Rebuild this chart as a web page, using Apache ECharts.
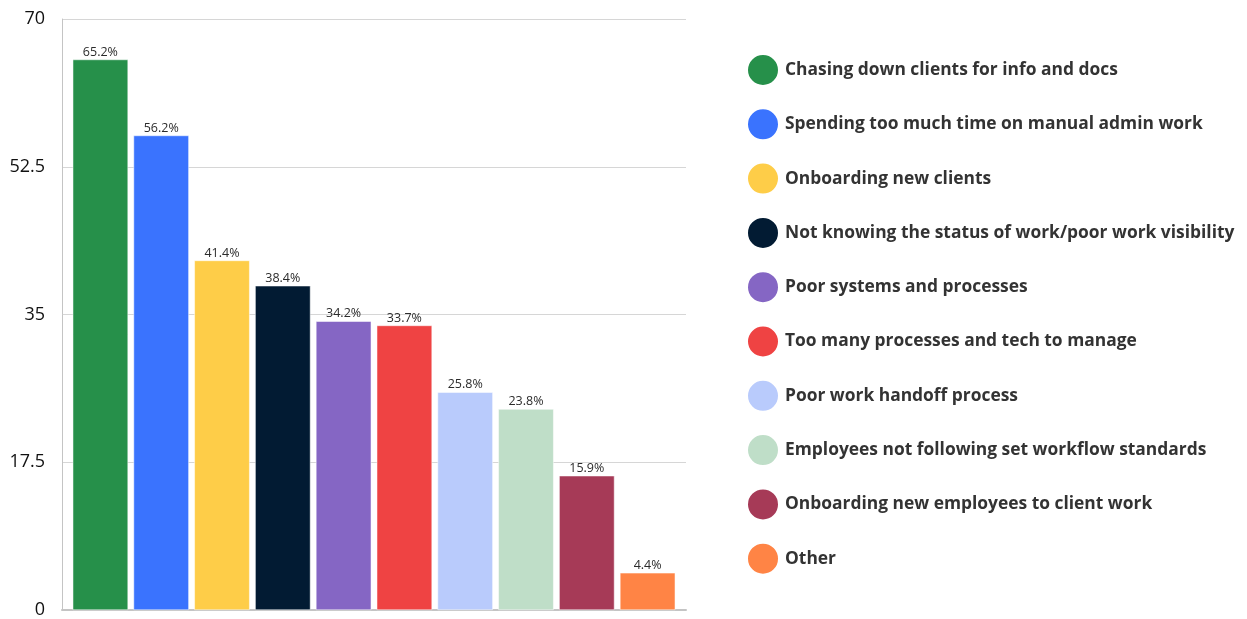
<!DOCTYPE html>
<html>
<head>
<meta charset="utf-8">
<script src="https://cdn.jsdelivr.net/npm/echarts@6/dist/echarts.min.js"></script>
<style>
  html, body { margin: 0; padding: 0; background: #fff; }
  #chart { width: 1247px; height: 619px; }
</style>
</head>
<body>
<div id="chart"></div>
<script>
// Survey responses: biggest workflow challenges (% of respondents)
const categories = [
  'Chasing down clients for info and docs',
  'Spending too much time on manual admin work',
  'Onboarding new clients',
  'Not knowing the status of work/poor work visibility',
  'Poor systems and processes',
  'Too many processes and tech to manage',
  'Poor work handoff process',
  'Employees not following set workflow standards',
  'Onboarding new employees to client work',
  'Other'
];
const values = [65.2, 56.2, 41.4, 38.4, 34.2, 33.7, 25.8, 23.8, 15.9, 4.4];
const colors = [
  '#26904A', '#3A73FE', '#FECD48', '#021B33', '#8566C4',
  '#EF4343', '#B9CBFC', '#BFDEC8', '#A63A57', '#FF8445'
];
const yTicks = { min: 0, max: 70, interval: 17.5 };

const FONT = '"Open Sans", "DejaVu Sans", sans-serif';

// One series per category so each bar gets its own legend entry;
// they share a stack so every bar sits centred in its own slot.
const series = categories.map((name, i) => ({
  name: name,
  type: 'bar',
  stack: 'all',
  xAxisIndex: 1,
  yAxisIndex: 1,
  barCategoryGap: '9%',
  data: values.map((v, j) => (j === i ? v : '-')),
  itemStyle: { color: colors[i], borderColor: '#ffffff', borderWidth: 0.5 },
  label: {
    show: true,
    position: 'top',
    distance: 1,
    formatter: p => p.value + '%',
    color: '#2b2b2b',
    fontSize: 12.5,
    fontFamily: FONT
  }
}));

const chart = echarts.init(document.getElementById('chart'), null, { renderer: 'canvas' });
chart.setOption({
  animation: false,
  backgroundColor: '#ffffff',
  grid: [
    // frame with axis lines and gridlines
    { left: 62, right: 561, top: 19, bottom: 9 },
    // bars
    { left: 70, right: 569, top: 19, bottom: 9 }
  ],
  xAxis: [
    {
      gridIndex: 0, type: 'value', min: 0, max: 1,
      axisLine: { show: true, lineStyle: { color: '#c4c4c4', width: 2 } },
      axisTick: { show: false }, axisLabel: { show: false }, splitLine: { show: false }
    },
    {
      gridIndex: 1, type: 'category', data: categories,
      axisLine: { show: false }, axisTick: { show: false },
      axisLabel: { show: false }, splitLine: { show: false }
    }
  ],
  yAxis: [
    {
      gridIndex: 0, type: 'value', min: yTicks.min, max: yTicks.max, interval: yTicks.interval,
      axisLine: { show: true, lineStyle: { color: '#c4c4c4', width: 1 } },
      axisTick: { show: false },
      axisLabel: { color: '#111111', fontSize: 18, fontFamily: FONT, margin: 17 },
      splitLine: { show: true, lineStyle: { color: '#d6d6d6', width: 1 } }
    },
    {
      gridIndex: 1, type: 'value', min: yTicks.min, max: yTicks.max,
      show: false, splitLine: { show: false }
    }
  ],
  legend: {
    orient: 'vertical',
    left: 741,
    top: 48,
    icon: 'circle',
    itemWidth: 32,
    itemHeight: 32,
    itemGap: 20.3,
    data: categories,
    textStyle: {
      color: '#333333',
      fontSize: 17.4,
      lineHeight: 22,
      fontWeight: 'bold',
      fontFamily: FONT,
      padding: [0, 0, 0, 1]
    }
  },
  series: series
});
</script>
</body>
</html>
